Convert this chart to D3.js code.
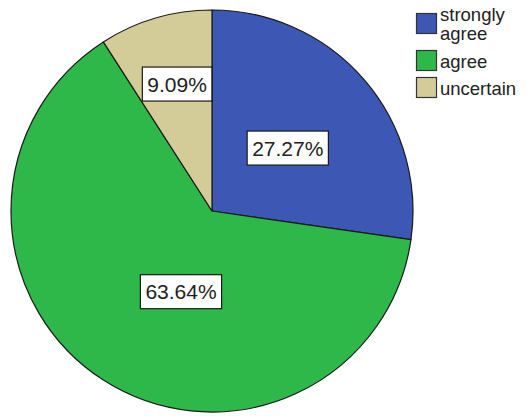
<!DOCTYPE html>
<html>
<head>
<meta charset="utf-8">
<script src="https://cdn.jsdelivr.net/npm/d3@7/dist/d3.min.js"></script>
<style>
  html, body { margin: 0; padding: 0; background: #fff; }
  svg { display: block; font-family: "Liberation Sans", Arial, sans-serif; }
</style>
</head>
<body>
<svg id="chart" width="532" height="416"></svg>
<script>
// Response categories and their shares of the sample (percent)
const categories = ["strongly agree", "agree", "uncertain"];
const legendLines = [["strongly", "agree"], ["agree"], ["uncertain"]];
const percents = [27.27, 63.64, 9.09];
const colors = ["#3d57b4", "#2db849", "#d4cc98"];

const svg = d3.select("#chart");
const cx = 212, cy = 211, radius = 201;

const pie = d3.pie().sort(null).value(d => d)(percents);
const arc = d3.arc().innerRadius(0).outerRadius(radius);

const g = svg.append("g").attr("transform", `translate(${cx},${cy})`);

g.selectAll("path.slice")
  .data(pie)
  .join("path")
  .attr("class", "slice")
  .attr("d", arc)
  .attr("fill", (d, i) => colors[i])
  .attr("stroke", "#1a1a1a")
  .attr("stroke-width", 1.2)
  .attr("stroke-linejoin", "round");

// Percentage labels: placed along each slice, radius as a fraction of the pie,
// with a small angular nudge for the large slice
const labelRadius = [0.49, 0.43, 0.655];
const labelNudge = [1.2, -11.7, 1.0]; // degrees

const labels = g.selectAll("g.label")
  .data(pie)
  .join("g")
  .attr("class", "label")
  .attr("transform", (d, i) => {
    const a = (d.startAngle + d.endAngle) / 2 + labelNudge[i] * Math.PI / 180;
    const r = labelRadius[i] * radius;
    return `translate(${r * Math.sin(a)},${-r * Math.cos(a)})`;
  });

labels.append("text")
  .attr("text-anchor", "middle")
  .attr("dy", "0.36em")
  .attr("font-size", 21)
  .attr("fill", "#222")
  .text(d => d.data.toFixed(2) + "%");

labels.each(function () {
  const grp = d3.select(this);
  const bb = grp.select("text").node().getBBox();
  grp.insert("rect", "text")
    .attr("x", bb.x - 5)
    .attr("y", -17)
    .attr("width", bb.width + 10)
    .attr("height", 34)
    .attr("fill", "#fff")
    .attr("stroke", "#1a1a1a")
    .attr("stroke-width", 1.2);
});

// Legend
const legend = svg.append("g").attr("transform", "translate(416,0)");
const lineStep = 19;
let y = 13;
categories.forEach((c, i) => {
  const lines = legendLines[i];
  const item = legend.append("g").attr("transform", `translate(0,${y})`);
  item.append("rect")
    .attr("x", 0.5).attr("y", 0.5)
    .attr("width", 20).attr("height", 20)
    .attr("fill", colors[i])
    .attr("stroke", "#333")
    .attr("stroke-width", 1.2);
  const first = 18 - (lines.length - 1) * 10;
  lines.forEach((ln, k) => {
    item.append("text")
      .attr("x", 24)
      .attr("y", first + k * lineStep)
      .attr("font-size", 18.5)
      .attr("fill", "#222")
      .text(ln);
  });
  y += Math.max(20, lines.length * 15) + 7;
});
</script>
</body>
</html>
